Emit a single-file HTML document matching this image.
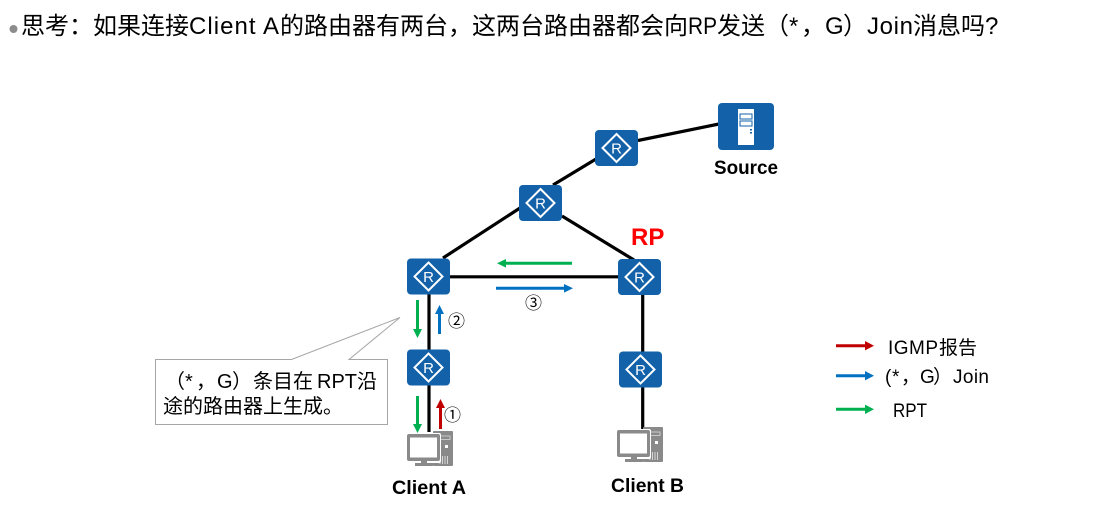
<!DOCTYPE html>
<html><head><meta charset="utf-8"><style>
html,body{margin:0;padding:0;background:#fff;width:1108px;height:509px;overflow:hidden}
svg{display:block}
text{font-family:"Liberation Sans","Noto Sans CJK SC",sans-serif;fill:#000;white-space:pre}
.b{font-weight:bold;font-size:19px}
</style></head><body>
<svg width="1108" height="509" viewBox="0 0 1108 509" xmlns="http://www.w3.org/2000/svg">
<defs>
<g id="r">
<rect x="-21.5" y="-18" width="43" height="36" rx="4" fill="#1261a9"/>
<path d="M0 -14L14 0L0 14L-14 0Z" fill="none" stroke="#fff" stroke-width="2"/>
<text x="0" y="5.5" text-anchor="middle" font-size="15" style="fill:#fff">R</text>
</g>
<g id="pc">
<rect x="26" y="0" width="20" height="35" rx="1" fill="#8a8a8a"/>
<rect x="29" y="5" width="14" height="3.500" fill="none" stroke="#c8c8c8" stroke-width="1"/>
<rect x="38" y="14" width="3" height="3" fill="#fff"/>
<path d="M33 25v8M35.500 25v8M38 25v8M40.500 25v8" stroke="#d8d8d8" stroke-width="1"/>
<rect x="-1" y="2" width="35" height="30" rx="2" fill="#fff"/>
<rect x="0" y="3" width="33" height="27" rx="2" fill="#8a8a8a"/>
<rect x="3" y="6.500" width="27" height="20" fill="#fff"/>
<rect x="14" y="30" width="6" height="2" fill="#8a8a8a"/>
<rect x="8" y="32" width="18" height="3" fill="#8a8a8a"/>
</g>
</defs>

<circle cx="13.500" cy="29" r="4" fill="#8c8c8c"/>
<text y="34" font-size="24"><tspan x="21">思考：</tspan><tspan x="93">如果连接</tspan><tspan x="189" textLength="90" lengthAdjust="spacing">Client A</tspan><tspan x="280">的路由器有两台，</tspan><tspan x="472">这两台路由器都会向</tspan><tspan x="688" textLength="29" lengthAdjust="spacingAndGlyphs">RP</tspan><tspan x="717">发送</tspan><tspan x="765">（</tspan><tspan x="789">*</tspan><tspan x="801">，</tspan><tspan x="825">G</tspan><tspan x="843">）</tspan><tspan x="867" textLength="46" lengthAdjust="spacing">Join</tspan><tspan x="913">消息吗</tspan><tspan x="985">?</tspan></text>

<g stroke="#000" fill="none" stroke-width="3.200">
<path d="M638 140.500L719 124"/>
<path d="M553 185L596 159"/>
<path d="M443 258L520 208"/>
<path d="M562 216L634 260"/>
<path d="M450 276.800H618"/>
<path d="M429 294V350"/>
<path d="M429 385V432"/>
<path d="M642.700 295V352"/>
<path d="M642.700 387V430"/>
</g>

<use href="#r" x="616.5" y="148"/>
<use href="#r" x="540.5" y="203"/>
<use href="#r" x="428.5" y="276.500"/>
<use href="#r" x="639.5" y="277"/>
<use href="#r" x="428.5" y="367.500"/>
<use href="#r" x="640.5" y="369.500"/>

<rect x="718" y="103" width="56" height="47" rx="4" fill="#1261a9"/>
<rect x="738" y="109" width="16" height="36" fill="#fff"/>
<rect x="740" y="114" width="12" height="5" fill="#fff" stroke="#1261a9" stroke-width="1"/>
<rect x="740" y="121" width="12" height="5" fill="#fff" stroke="#1261a9" stroke-width="1"/>
<rect x="750" y="129" width="2" height="1.500" fill="#1261a9"/>
<rect x="750" y="132" width="2" height="1.500" fill="#1261a9"/>

<use href="#pc" x="407" y="431"/>
<use href="#pc" x="617" y="427"/>

<text class="b" x="714" y="174" textLength="64" lengthAdjust="spacingAndGlyphs">Source</text>
<text x="631" y="245" font-size="24" font-weight="bold" style="fill:#f00">RP</text>
<text class="b" x="392" y="494" textLength="74" lengthAdjust="spacingAndGlyphs">Client A</text>
<text class="b" x="611" y="492" textLength="73" lengthAdjust="spacingAndGlyphs">Client B</text>

<g fill="none" stroke-width="3">
<path d="M572 263.300H504" stroke="#00b050"/>
<path d="M496 288.300H566" stroke="#0070c0"/>
<path d="M417.500 300V331" stroke="#00b050"/>
<path d="M439.500 334V312" stroke="#0070c0"/>
<path d="M417.500 396V426" stroke="#00b050"/>
<path d="M440.500 429V407" stroke="#c00000"/>
<path d="M836 345.700H868" stroke="#c00000"/>
<path d="M836 375.700H868" stroke="#0070c0"/>
<path d="M836 409.300H868" stroke="#00b050"/>
</g>
<path d="M497 263.300L506 259V267.600Z" fill="#00b050"/>
<path d="M573 288.300L564 284V292.600Z" fill="#0070c0"/>
<path d="M417.500 338L413 329H422Z" fill="#00b050"/>
<path d="M439.500 305L435 314H444Z" fill="#0070c0"/>
<path d="M417.500 433L413 424H422Z" fill="#00b050"/>
<path d="M440.500 399L436 408H445Z" fill="#c00000"/>
<path d="M874 345.700L865 341V350.400Z" fill="#c00000"/>
<path d="M874 375.700L865 371V380.400Z" fill="#0070c0"/>
<path d="M874 409.300L865 404.600V414Z" fill="#00b050"/>

<text x="448" y="327" font-size="17">②</text>
<text x="525" y="309" font-size="17">③</text>
<text x="444" y="421" font-size="17">①</text>

<path d="M155.500 359.500H291.500L400 317.500L349 359.500H387.500V424.500H155.500Z" fill="#fff" stroke="#a6a6a6" stroke-width="1"/>
<text y="388" font-size="20"><tspan x="165">（</tspan><tspan x="185">*</tspan><tspan x="196">，</tspan><tspan x="217">G</tspan><tspan x="232">）</tspan><tspan x="253">条目在</tspan><tspan x="317" textLength="40" lengthAdjust="spacing">RPT</tspan><tspan x="357">沿</tspan></text>
<text x="163" y="413" font-size="20">途的路由器上生成。</text>

<text y="354" font-size="19"><tspan x="888" textLength="50" lengthAdjust="spacing">IGMP</tspan><tspan x="939">报告</tspan></text>
<text y="383" font-size="19"><tspan x="885">(</tspan><tspan x="892">*</tspan><tspan x="901">，</tspan><tspan x="920">G</tspan><tspan x="933">）</tspan><tspan x="953" textLength="36" lengthAdjust="spacing">Join</tspan></text>
<text x="893" y="417" font-size="19" textLength="34" lengthAdjust="spacingAndGlyphs">RPT</text>
</svg>
</body></html>
